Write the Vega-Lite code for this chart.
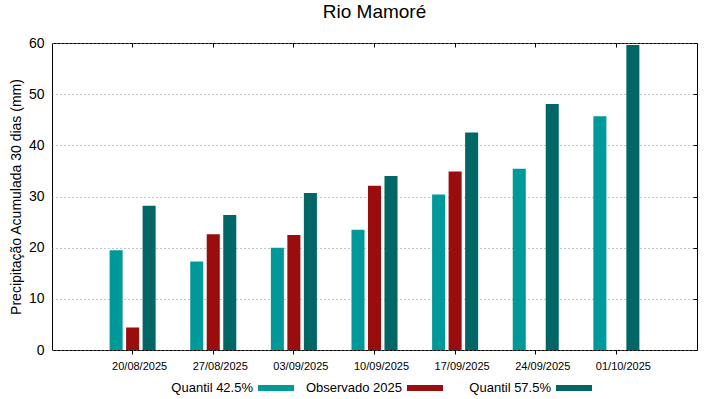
{
  "$schema": "https://vega.github.io/schema/vega-lite/v6.json",
  "width": 645,
  "height": 307,
  "autosize": {"type": "none"},
  "padding": {"left": 52, "top": 43, "right": 22, "bottom": 49},
  "background": "white",
  "title": {"text": "Rio Mamoré", "fontSize": 19, "font": "Liberation Sans", "fontWeight": "normal", "color": "#000", "anchor": "middle", "offset": 14},
  "config": {
    "font": "Liberation Sans",
    "view": {"stroke": "#000", "strokeWidth": 1},
    "axis": {"labelColor": "#000", "titleColor": "#000", "labelFont": "Liberation Sans", "titleFont": "Liberation Sans", "tickColor": "#000"}
  },
  "data": {"values": [
    {"data": "20/08/2025", "serie": "Quantil 42.5%", "valor": 19.5},
    {"data": "20/08/2025", "serie": "Observado 2025", "valor": 4.4},
    {"data": "20/08/2025", "serie": "Quantil 57.5%", "valor": 28.2},
    {"data": "27/08/2025", "serie": "Quantil 42.5%", "valor": 17.3},
    {"data": "27/08/2025", "serie": "Observado 2025", "valor": 22.6},
    {"data": "27/08/2025", "serie": "Quantil 57.5%", "valor": 26.4},
    {"data": "03/09/2025", "serie": "Quantil 42.5%", "valor": 20.0},
    {"data": "03/09/2025", "serie": "Observado 2025", "valor": 22.5},
    {"data": "03/09/2025", "serie": "Quantil 57.5%", "valor": 30.7},
    {"data": "10/09/2025", "serie": "Quantil 42.5%", "valor": 23.5},
    {"data": "10/09/2025", "serie": "Observado 2025", "valor": 32.1},
    {"data": "10/09/2025", "serie": "Quantil 57.5%", "valor": 34.0},
    {"data": "17/09/2025", "serie": "Quantil 42.5%", "valor": 30.4},
    {"data": "17/09/2025", "serie": "Observado 2025", "valor": 34.9},
    {"data": "17/09/2025", "serie": "Quantil 57.5%", "valor": 42.5},
    {"data": "24/09/2025", "serie": "Quantil 42.5%", "valor": 35.4},
    {"data": "24/09/2025", "serie": "Quantil 57.5%", "valor": 48.1},
    {"data": "01/10/2025", "serie": "Quantil 42.5%", "valor": 45.7},
    {"data": "01/10/2025", "serie": "Quantil 57.5%", "valor": 59.6}
  ]},
  "layer": [
    {
      "mark": {"type": "bar"},
      "encoding": {
        "x": {
          "field": "data", "type": "ordinal", "sort": null,
          "scale": {"domain": ["20/08/2025", "27/08/2025", "03/09/2025", "10/09/2025", "17/09/2025", "24/09/2025", "01/10/2025"], "paddingInner": 0.386, "paddingOuter": 0.693},
          "axis": {"title": null, "labelAngle": 0, "labelFontSize": 11, "labelOffset": 7, "labelPadding": 6, "ticks": true, "tickSize": 4, "domain": false}
        },
        "xOffset": {
          "field": "serie", "type": "nominal",
          "scale": {"domain": ["Quantil 42.5%", "Observado 2025", "Quantil 57.5%"], "paddingInner": 0.21, "paddingOuter": 0.105}
        },
        "y": {
          "field": "valor", "type": "quantitative",
          "scale": {"domain": [0, 60], "nice": false},
          "axis": {"title": "Precipitação Acumulada 30 dias (mm)", "titleFontSize": 14, "titleFontWeight": "normal", "titlePadding": 5, "values": [0, 10, 20, 30, 40, 50, 60], "labelFontSize": 14, "labelPadding": 8, "ticks": false, "domain": false, "gridColor": "#888", "gridDash": [1, 3], "gridWidth": 1}
        },
        "color": {
          "field": "serie", "type": "nominal",
          "scale": {"domain": ["Quantil 42.5%", "Observado 2025", "Quantil 57.5%"], "range": ["#009999", "#990d0d", "#006666"]},
          "legend": {"title": null, "orient": "none", "direction": "horizontal", "legendX": 206, "legendY": 327, "symbolType": "M-1,-0.17L1,-0.17L1,0.17L-1,0.17Z", "symbolStrokeWidth": 0, "symbolSize": 1296, "symbolOpacity": 1, "labelFontSize": 13, "labelColor": "#000", "labelAlign": "right", "labelOffset": -41, "columns": 3, "gridAlign": "all", "columnPadding": 11}
        }
      }
    },
    {
      "mark": {"type": "bar", "opacity": 0},
      "encoding": {
        "x": {
          "field": "data", "type": "ordinal", "sort": null,
          "axis": {"orient": "top", "title": null, "labels": false, "ticks": true, "tickSize": -4, "domain": false, "grid": false}
        },
        "xOffset": {"field": "serie", "type": "nominal"},
        "y": {
          "field": "valor", "type": "quantitative",
          "axis": {"orient": "right", "title": null, "labels": false, "values": [0, 10, 20, 30, 40, 50, 60], "ticks": true, "tickSize": -4, "domain": false, "grid": false}
        }
      }
    }
  ],
  "resolve": {"axis": {"x": "independent", "y": "independent"}}
}
